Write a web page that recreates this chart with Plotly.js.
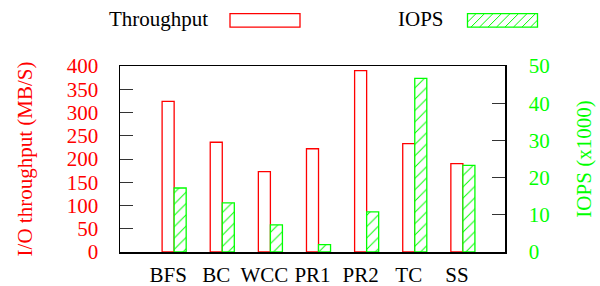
<!DOCTYPE html>
<html>
<head>
<meta charset="utf-8">
<script src="https://cdn.plot.ly/plotly-3.0.1.min.js"></script>
<style>html,body{margin:0;padding:0;background:#fff;}#chart{width:600px;height:286px;}</style>
</head>
<body>
<div id="chart"></div>
<script>
// Data
const categories = ["BFS", "BC", "WCC", "PR1", "PR2", "TC", "SS"];
const throughputMBs = [324, 236, 173, 222, 390, 233, 190];
const iopsThousands = [17.2, 13.2, 7.3, 2.0, 10.8, 46.7, 23.3];
const seriesNames = ["Throughput", "IOPS"];

// Layout geometry (pixels)
const W = 600, H = 286;
const M = {l: 120, r: 95, t: 66, b: 33.5};
const PW = W - M.l - M.r, PH = H - M.t - M.b;
const px = x => (x - M.l) / PW;
const py = y => (H - M.b - y) / PH;

const RED = "#ff0000", GREEN = "#00ff00";
const FONT = "Liberation Serif, Times New Roman, serif";
const FS = 21;

const traces = [
  {
    type: "bar", x: categories, y: throughputMBs, name: seriesNames[0],
    width: 0.25, offset: -0.125,
    marker: {color: "rgba(255,255,255,0)", line: {color: RED, width: 1.3}},
    yaxis: "y", showlegend: false, hoverinfo: "x+y"
  },
  {
    type: "bar", x: categories, y: iopsThousands, name: seriesNames[1],
    width: 0.25, offset: 0.125,
    marker: {color: "rgba(255,255,255,0)", line: {color: GREEN, width: 1.3},
             pattern: {shape: "/", fgcolor: GREEN, bgcolor: "white", size: 8, solidity: 0.12}},
    yaxis: "y2", showlegend: false, hoverinfo: "x+y"
  }
];

// Legend drawn gnuplot-style: text, then key box
function hatchPath(x0, y0, x1, y1, step) {
  const h = y1 - y0;
  let d = "";
  for (let s = x0 - h; s < x1; s += step) {
    let ax = s, ay = y1, bx = s + h, by = y0;
    if (ax < x0) { ay = y1 - (x0 - ax); ax = x0; }
    if (bx > x1) { by = y0 + (bx - x1); bx = x1; }
    if (bx <= ax) continue;
    d += `M${px(ax)},${py(ay)}L${px(bx)},${py(by)}`;
  }
  return d;
}
const key1 = {x0: 230, x1: 300, y0: 13.5, y1: 27};
const key2 = {x0: 467.5, x1: 537.5, y0: 13.5, y1: 27};

const shapes = [
  {type: "rect", xref: "paper", yref: "paper", x0: px(key1.x0), x1: px(key1.x1), y0: py(key1.y1), y1: py(key1.y0),
   line: {color: RED, width: 1.3}, fillcolor: "rgba(0,0,0,0)"},
  {type: "path", xref: "paper", yref: "paper", path: hatchPath(key2.x0, key2.y0, key2.x1, key2.y1, 8.5),
   line: {color: GREEN, width: 1}},
  {type: "rect", xref: "paper", yref: "paper", x0: px(key2.x0), x1: px(key2.x1), y0: py(key2.y1), y1: py(key2.y0),
   line: {color: GREEN, width: 1.3}, fillcolor: "rgba(0,0,0,0)"}
];

const annotations = [
  {xref: "paper", yref: "paper", x: px(209.5), y: py(19), xanchor: "right", yanchor: "middle",
   text: seriesNames[0], showarrow: false, font: {family: FONT, size: FS, color: "#000"}},
  {xref: "paper", yref: "paper", x: px(446), y: py(19), xanchor: "right", yanchor: "middle",
   text: seriesNames[1], showarrow: false, font: {family: FONT, size: FS, color: "#000"}}
];

const catIdx = categories.map((c, i) => i);

const layout = {
  width: W, height: H,
  margin: {l: M.l, r: M.r, t: M.t, b: M.b, pad: 0},
  paper_bgcolor: "#fff", plot_bgcolor: "#fff",
  font: {family: FONT, size: FS, color: "#000"},
  barmode: "overlay",
  showlegend: false,
  xaxis: {
    type: "category", range: [-1, 7], ticks: "", showgrid: false, zeroline: false,
    showline: true, mirror: true, linecolor: "#000", linewidth: 1.5,
    tickfont: {family: FONT, size: FS, color: "#000"}, ticklabelstandoff: 3
  },
  xaxis2: {
    overlaying: "x", side: "top", anchor: "y", range: [-1, 7], tickvals: catIdx,
    ticks: "inside", ticklen: 14, tickwidth: 1, tickcolor: "#333",
    showticklabels: false, showgrid: false, zeroline: false, showline: false
  },
  yaxis: {
    range: [0, 400], dtick: 50, ticks: "inside", ticklen: 13, tickwidth: 1, tickcolor: "#333",
    showgrid: false, zeroline: false, showline: true, linecolor: "#000", linewidth: 1.5,
    tickfont: {family: FONT, size: FS, color: RED}, ticklabelstandoff: 16,
    title: {text: "I/O throughput (MB/S)", font: {family: FONT, size: FS, color: RED}, standoff: 28}
  },
  yaxis2: {
    overlaying: "y", side: "right", range: [0, 50], dtick: 10, ticks: "inside", ticklen: 13, tickwidth: 1, tickcolor: "#333",
    showgrid: false, zeroline: false, showline: true, linecolor: "#000", linewidth: 1.5,
    tickfont: {family: FONT, size: FS, color: GREEN}, ticklabelstandoff: 18,
    title: {text: "IOPS (x1000)", font: {family: FONT, size: FS, color: GREEN}, standoff: 27}
  },
  shapes: shapes,
  annotations: annotations
};

Plotly.newPlot("chart", traces, layout, {displayModeBar: false, staticPlot: true});
</script>
</body>
</html>
